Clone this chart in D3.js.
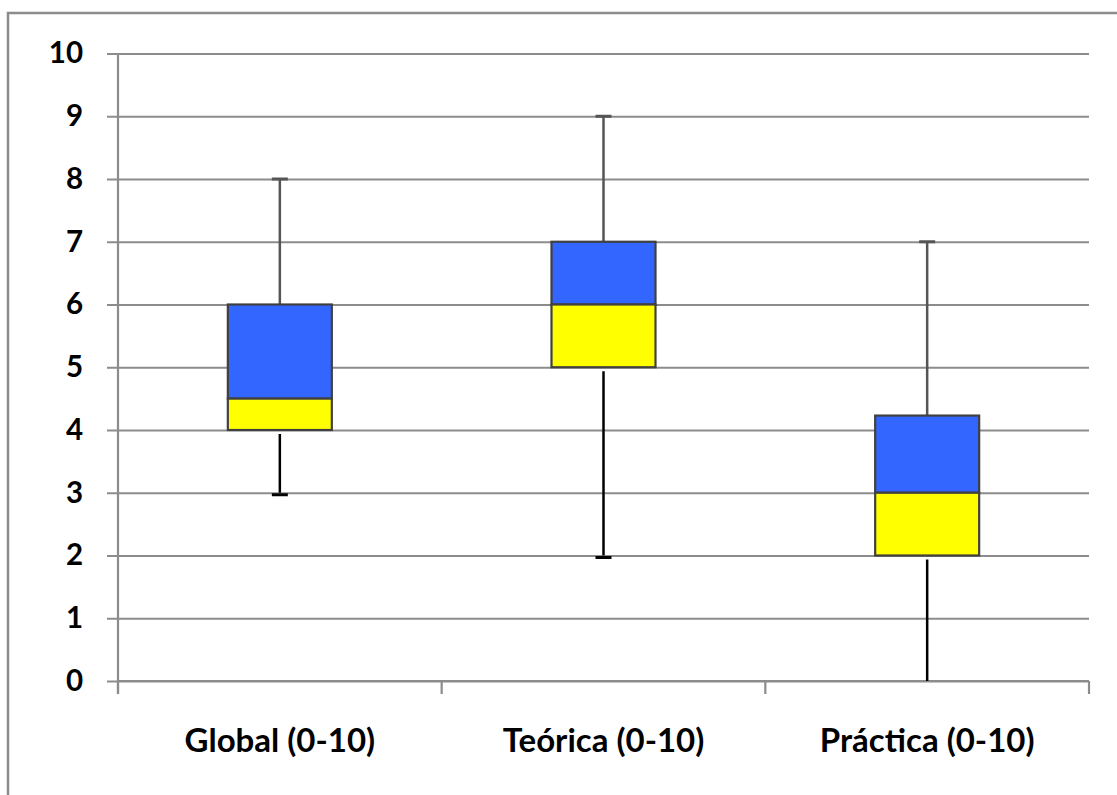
<!DOCTYPE html>
<html><head><meta charset="utf-8">
<script src="https://cdn.jsdelivr.net/npm/d3@7"></script>
<style>body{margin:0;background:#fff}svg{display:block}</style>
</head><body><svg id="c" width="1117" height="795"></svg>
<script>
const categories = ["Global (0-10)", "Teórica (0-10)", "Práctica (0-10)"];
const minVals    = [3, 2, 0];
const q1Vals     = [4, 5, 2];
const medianVals = [4.5, 6, 3];
const q3Vals     = [6, 7, 4.23];
const maxVals    = [8, 9, 7];
const yTicks     = [0,1,2,3,4,5,6,7,8,9,10];

const svg = d3.select("#c");
const L = 118, R = 1089, T = 53.5, B = 681;
const font = "Lato, 'Open Sans', sans-serif";

// outer border
svg.append("rect").attr("x",8).attr("y",13).attr("width",1130).attr("height",800)
  .attr("fill","none").attr("stroke","#8c8c8c").attr("stroke-width",2.5);

const y = d3.scaleLinear().domain([0,10]).range([B,T]);
const x = d3.scaleBand().domain(categories).range([L,R]);

// gridlines + y axis
const yAxis = d3.axisLeft(y).tickValues(yTicks).tickSize(-(R-L)).tickSizeOuter(0).tickPadding(35);
const gy = svg.append("g").attr("transform",`translate(${L},0)`).call(yAxis);
gy.select(".domain").remove();
gy.selectAll(".tick line").attr("stroke","#8c8c8c").attr("stroke-width",2.2).attr("x1",-11);
gy.selectAll(".tick text").attr("font-family",font).attr("font-weight","bold").attr("font-size",29.5).attr("fill","#000");
svg.append("line").attr("x1",L).attr("x2",L).attr("y1",T).attr("y2",B+13).attr("stroke","#8c8c8c").attr("stroke-width",2.2);

// x axis
const xAxis = d3.axisBottom(x).tickSize(0).tickPadding(48);
const gx = svg.append("g").attr("transform",`translate(0,${B})`).call(xAxis);
gx.select(".domain").attr("stroke","#8c8c8c").attr("stroke-width",2.2).attr("d",`M${L},0H${R}`);
gx.selectAll(".tick text").attr("font-family",font).attr("font-weight","bold").attr("font-size",33).attr("fill","#000");
const bounds = categories.map(c=>x(c)).concat([R]);
gx.selectAll(".bt").data(bounds).enter().append("line").attr("class","bt")
  .attr("x1",d=>d).attr("x2",d=>d).attr("y1",0).attr("y2",13)
  .attr("stroke","#8c8c8c").attr("stroke-width",2.2);

// boxes
const bw = 104, cap = 16;
categories.forEach((c,i)=>{
  const cx = x(c) + x.bandwidth()/2;
  const g = svg.append("g");
  // upper whisker
  g.append("line").attr("x1",cx).attr("x2",cx).attr("y1",y(maxVals[i])).attr("y2",y(q3Vals[i]))
    .attr("stroke","#555").attr("stroke-width",2.5);
  g.append("line").attr("x1",cx-cap/2).attr("x2",cx+cap/2).attr("y1",y(maxVals[i])).attr("y2",y(maxVals[i]))
    .attr("stroke","#555").attr("stroke-width",3);
  // lower whisker
  g.append("line").attr("x1",cx).attr("x2",cx).attr("y1",y(q1Vals[i])+4).attr("y2",y(minVals[i]))
    .attr("stroke","#000").attr("stroke-width",2.5);
  if (minVals[i] > 0)
    g.append("line").attr("x1",cx-cap/2).attr("x2",cx+cap/2).attr("y1",y(minVals[i])+2).attr("y2",y(minVals[i])+2)
      .attr("stroke","#000").attr("stroke-width",3);
  // upper box (median to q3)
  g.append("rect").attr("x",cx-bw/2).attr("width",bw).attr("y",y(q3Vals[i])).attr("height",y(medianVals[i])-y(q3Vals[i]))
    .attr("fill","#3366ff").attr("stroke","#404040").attr("stroke-width",2.2);
  // lower box (q1 to median)
  g.append("rect").attr("x",cx-bw/2).attr("width",bw).attr("y",y(medianVals[i])).attr("height",y(q1Vals[i])-y(medianVals[i]))
    .attr("fill","#ffff00").attr("stroke","#404040").attr("stroke-width",2.2);
});
</script></body></html>
